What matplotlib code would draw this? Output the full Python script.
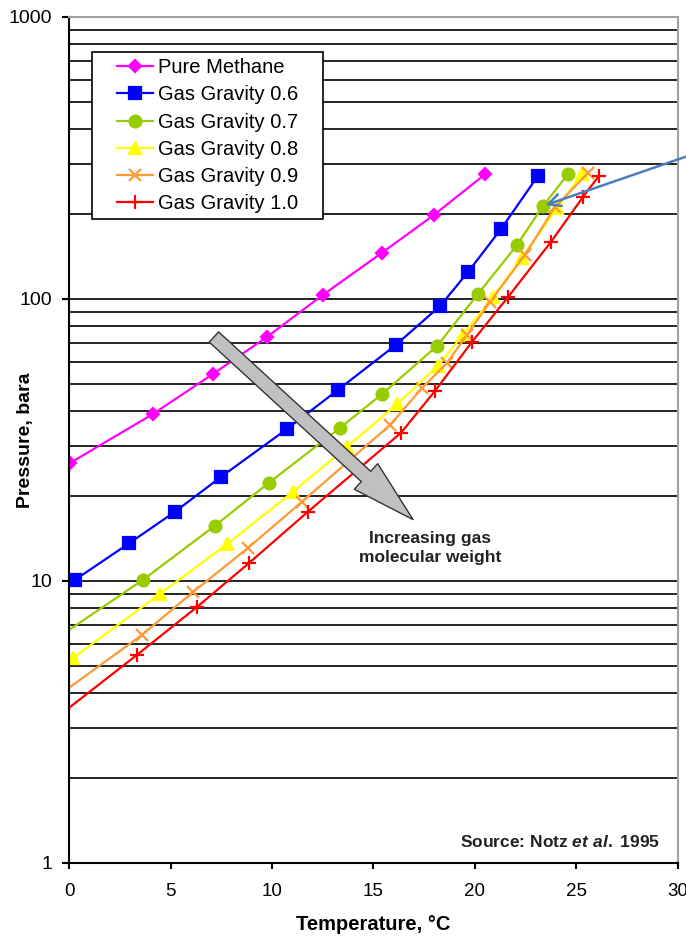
import matplotlib
matplotlib.use("Agg")
import matplotlib.pyplot as plt
from matplotlib.lines import Line2D
from matplotlib.legend_handler import HandlerLine2D
import numpy as np

plt.rcParams['font.family'] = ['Liberation Sans', 'DejaVu Sans']
plt.rcParams['mathtext.fontset'] = 'custom'
plt.rcParams['mathtext.rm'] = 'Liberation Sans:bold'
plt.rcParams['mathtext.it'] = 'Liberation Sans:bold:italic'

# Hydrate formation curves (T in degC, P in bara)
methane_t = [0.05, 4.14, 7.09, 9.75, 12.5, 15.4, 17.98, 20.5]
methane_p = [26.2, 39.1, 54.2, 73.3, 103.3, 145.5, 198.6, 277]

g06_t = [0.3, 2.96, 5.22, 7.49, 10.74, 13.25, 16.1, 18.28, 19.66, 21.28, 23.1]
g06_p = [10.1, 13.6, 17.6, 23.4, 34.6, 47.6, 68.7, 94.4, 124.7, 177, 273]

g07_t = [0.0, 3.65, 7.19, 9.85, 13.35, 15.42, 18.13, 20.15, 22.07, 23.35, 24.58]
g07_p = [6.7, 10.1, 15.7, 22.3, 34.9, 46.0, 68.1, 104.2, 155.4, 213.7, 277]

g08_t = [0.2, 4.48, 7.78, 11.03, 13.7, 16.16, 18.18, 19.4, 20.89, 22.3, 24.04, 25.27]
g08_p = [5.33, 9.0, 13.5, 20.7, 29.9, 42.4, 57.9, 74.5, 101.6, 139.8, 210, 277]

g09_t = [0.0, 3.6, 6.11, 8.82, 11.48, 15.81, 17.39, 18.62, 19.6, 20.74, 22.46, 23.94, 25.57]
g09_p = [4.18, 6.44, 9.14, 13.1, 19.1, 35.7, 48.3, 59.3, 74.5, 97.6, 143.3, 211.9, 279.8]

g10_t = [0.0, 3.35, 6.31, 8.87, 11.77, 16.35, 18.03, 19.85, 21.63, 23.74, 25.32, 26.1]
g10_p = [3.55, 5.47, 8.09, 11.58, 17.6, 33.5, 47.2, 70.4, 101.6, 159.3, 230, 273]

labels = ["Pure Methane", "Gas Gravity 0.6", "Gas Gravity 0.7",
          "Gas Gravity 0.8", "Gas Gravity 0.9", "Gas Gravity 1.0"]

fig = plt.figure(figsize=(6.86, 9.38), dpi=100)
ax = fig.add_axes([0.1006, 0.08, 0.8877, 0.9019])

# series: (t, p, colour, marker, size, first point marked?)
series = [
    (methane_t, methane_p, "#FF00FF", "D", 6.5, True),
    (g06_t, g06_p, "#0000FF", "s", 8.5, True),
    (g07_t, g07_p, "#99CC00", "o", 8.5, False),
    (g08_t, g08_p, "#FFFF00", "^", 9, True),
    (g09_t, g09_p, "#FF9933", "x", 9, False),
    (g10_t, g10_p, "#FF0000", "+", 10, False),
]
for (t, p, c, m, ms, first), lab in zip(series, labels):
    me = None if first else slice(1, None)
    ax.plot(t, p, color=c, marker=m, markersize=ms, lw=1.6, mew=1.6,
            markevery=me, label=lab)

ax.set_yscale("log")
ax.set_xlim(0, 30)
ax.set_ylim(1, 1000)
ax.set_xticks(np.arange(0, 31, 5))
ax.set_yticks([1, 10, 100, 1000], labels=["1", "10", "100", "1000"])
ax.yaxis.set_minor_formatter(matplotlib.ticker.NullFormatter())
ax.tick_params(axis="y", which="minor", length=0)
ax.tick_params(axis="y", which="major", direction="out", length=5, width=1.5,
               labelsize=14, pad=7)
ax.tick_params(axis="x", which="major", direction="out", length=4, width=1.5,
               labelsize=13.5, pad=10.5)
ax.yaxis.grid(True, which="both", color="black", lw=1.2)
ax.set_axisbelow(True)

for s in ["left", "bottom"]:
    ax.spines[s].set_linewidth(1.5)
for s in ["top", "right"]:
    ax.spines[s].set_color("#A0A0A0")
    ax.spines[s].set_linewidth(1.5)

ax.set_xlabel("Temperature, °C", fontsize=14.5, fontweight="bold", labelpad=11)
ax.set_ylabel("Pressure, bara", fontsize=14, fontweight="bold")
ax.yaxis.set_label_coords(-0.058, 0.5)

leg = ax.legend(loc="upper left", bbox_to_anchor=(0.038, 0.9586, 0.379, 0.0),
                mode="expand", fontsize=14.5,
                frameon=True, fancybox=False, edgecolor="black", framealpha=1,
                handlelength=2.73, handletextpad=0.25, labelspacing=0.41,
                borderpad=0.3, borderaxespad=0,
                handler_map={Line2D: HandlerLine2D(xpad=0.94)})
leg.get_frame().set_linewidth(1.2)

# big grey trend arrow
ax.annotate("", xy=(16.95, 16.5), xytext=(7.14, 73.3),
            arrowprops=dict(arrowstyle="simple,head_width=25,head_length=46,tail_width=10",
                            fc="#C0C0C0", ec="#333333", lw=1, mutation_scale=1,
                            shrinkA=0, shrinkB=0))
ax.text(0.593, 0.372, "Increasing gas\nmolecular weight", transform=ax.transAxes,
        ha="center", va="center", fontsize=12.5, fontweight="bold", color="#222222",
        linespacing=1.3)

# blue callout arrow pointing at a 0.7 point
ax.annotate("", xy=(g07_t[9], g07_p[9]), xytext=(1.0, 0.833),
            textcoords="figure fraction", annotation_clip=False,
            arrowprops=dict(arrowstyle="->", color="#4A7EBB", lw=1.8,
                            mutation_scale=22, shrinkA=0, shrinkB=2))

ax.text(0.97, 0.015, r"Source: Notz $\it{et\ al.}$ 1995", transform=ax.transAxes,
        ha="right", va="bottom", fontsize=12.5, fontweight="bold", color="#222222")

fig.savefig("out.png", dpi=100)
